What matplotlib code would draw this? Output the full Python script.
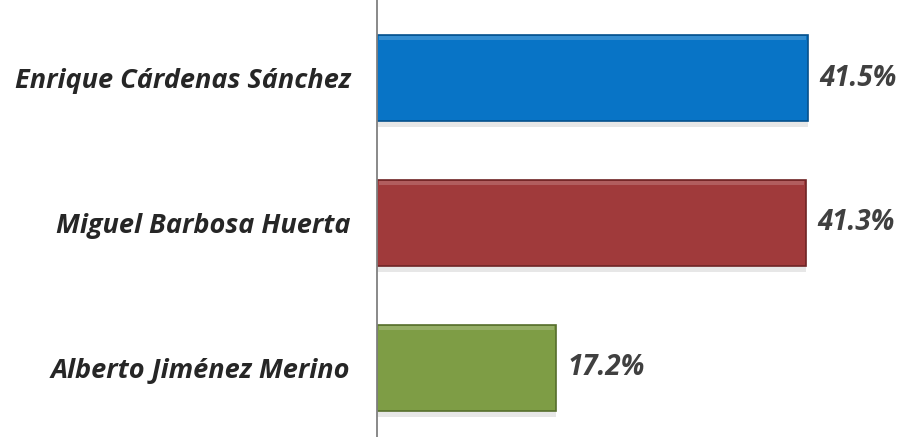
import matplotlib.pyplot as plt

candidates = ["Enrique Cárdenas Sánchez", "Miguel Barbosa Huerta", "Alberto Jiménez Merino"]
votes = [41.5, 41.3, 17.2]
labels = ["41.5%", "41.3%", "17.2%"]
colors = ["#0874C6", "#A03A3B", "#7E9D45"]
edges = ["#05508C", "#6E2425", "#566E2C"]

fig = plt.figure(figsize=(9.05, 4.37), dpi=100)
ax = fig.add_axes([377 / 905, 0, 528 / 905, 1])

pos = list(range(len(candidates)))

# soft shadow under each bar
ax.barh([p + 0.04 for p in pos], votes, height=0.59, color="#d8d8d8", alpha=0.6, zorder=1)
ax.barh(pos, votes, height=0.59, color=colors, edgecolor=edges, linewidth=1.2, zorder=2)
# light bevel strip on top
ax.barh([p - 0.275 for p in pos], [v - 0.4 for v in votes], left=0.2, height=0.03,
        color="white", alpha=0.18, linewidth=0, zorder=3)

for p, v, t in zip(pos, votes, labels):
    ax.text(v + 1.1, p, t, va="center", ha="left", fontsize=20, fontweight="bold",
            fontstyle="italic", color="#404040", family="Open Sans")

ax.set_xlim(0, 50.8)
ax.set_ylim(2.476, -0.538)
ax.set_yticks(pos)
ax.set_yticklabels(candidates, fontsize=19.5, fontweight="bold", fontstyle="italic",
                   color="#262626", family="Open Sans")
ax.tick_params(axis="y", length=0, pad=19)
ax.set_xticks([])

for s in ["top", "right", "bottom"]:
    ax.spines[s].set_visible(False)
ax.spines["left"].set_color("#808080")
ax.spines["left"].set_linewidth(1.3)

fig.savefig("out.png", dpi=100)
